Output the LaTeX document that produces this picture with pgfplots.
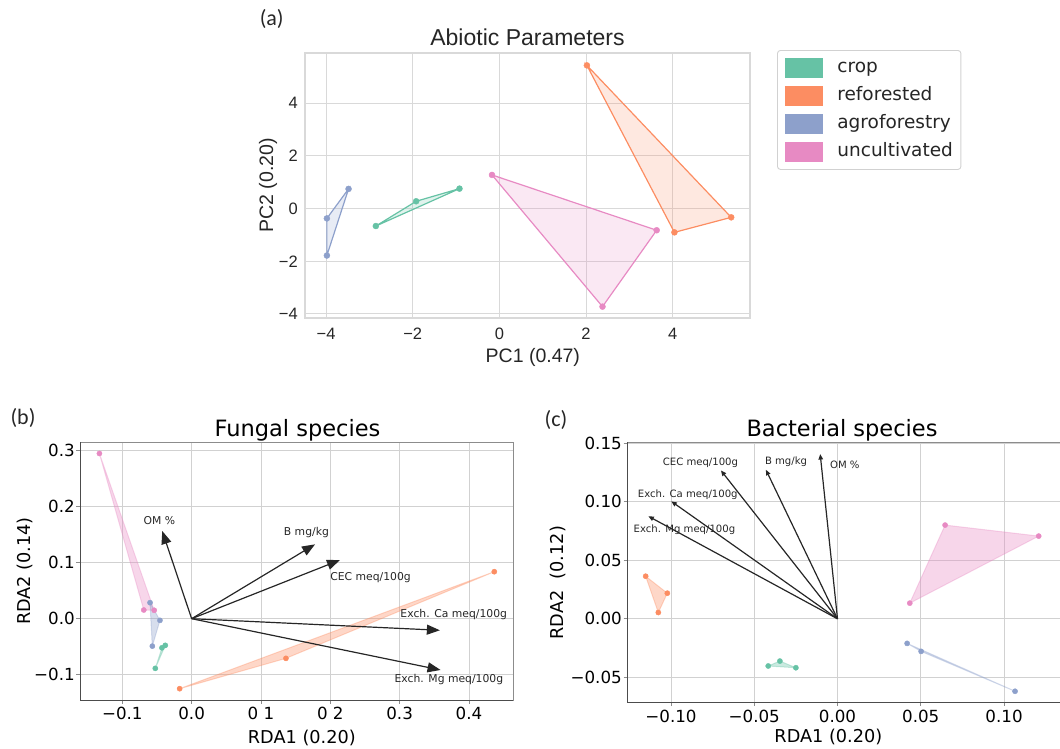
\documentclass[border=0pt]{standalone}
\usepackage{fontspec}
\setmainfont{DejaVu Sans}
\newfontfamily\arialfont{Liberation Sans}
\newfontfamily\tagfont{Carlito}
\usepackage{pgfplots}
\pgfplotsset{compat=1.18}
\usetikzlibrary{arrows.meta}

% Set2 palette
\definecolor{crop}{HTML}{66C2A5}
\definecolor{refo}{HTML}{FC8D62}
\definecolor{agro}{HTML}{8DA0CB}
\definecolor{uncu}{HTML}{E78AC3}
\definecolor{txtdark}{HTML}{262626}

\newcommand{\fs}[1]{\fontsize{#1}{#1}\selectfont}

\pgfplotsset{
  % convex hulls and sample points, PCA panel
  hullA/.style={draw=#1, line width=1.2pt, fill=#1, fill opacity=0.2, forget plot},
  ptsA/.style={only marks, mark=*, mark size=3pt, color=#1, forget plot},
  % convex hulls and sample points, RDA panels
  hullR/.style={draw=#1, draw opacity=0.35, line width=1pt, fill=#1, fill opacity=0.35, forget plot},
  ptsR/.style={only marks, mark=*, mark size=2.6pt, color=#1, forget plot},
  % environmental vectors
  vecB/.style={black!85, line width=1.2pt, -{Triangle[length=13pt,width=10pt]}, forget plot},
  vecC/.style={black!85, line width=1.2pt, -{Triangle[length=5.5pt,width=4.5pt]}, forget plot},
  rdaaxis/.style={
    scale only axis, anchor=south west, clip=false,
    grid=major, major grid style={black!18, line width=0.9pt},
    axis line style={black!45, line width=0.9pt},
    tick align=outside, major tick length=3.5pt,
    tick style={black!45, line width=0.9pt},
    xtick pos=lower, ytick pos=left,
    tick label style={font=\fs{16.7}, color=black},
    xticklabel style={inner sep=0pt, yshift=-3.8pt},
    yticklabel style={inner sep=0pt, xshift=-1.5pt},
  },
}

\begin{document}
\begin{tikzpicture}[x=1pt,y=1pt]
\path[use as bounding box] (0,0) rectangle (1060,748);

% ---------------- (a) PCA of abiotic parameters ----------------
\begin{axis}[
  at={(305pt,430pt)}, anchor=south west, scale only axis,
  width=445pt, height=265pt,
  xmin=-4.485, xmax=5.784, ymin=-4.152, ymax=5.91,
  xtick={-4,-2,0,2,4}, ytick={-4,-2,0,2,4},
  xticklabels={−4,−2,0,2,4}, yticklabels={−4,−2,0,2,4},
  grid=major, major grid style={black!15, line width=1pt},
  axis line style={black!15, line width=1.3pt},
  tick style={draw=none},
  tick label style={font=\arialfont\fs{16.5}, color=txtdark},
  xticklabel style={inner sep=0pt, yshift=-9.7pt},
  yticklabel style={inner sep=0pt, xshift=-7pt},
  title={Abiotic Parameters},
  every axis title/.style={at={(axis description cs:0.5,1.0275)}, anchor=base, font=\arialfont\fs{23}, color=txtdark},
  xlabel={PC1 (0.47)},
  every axis x label/.style={at={(axis description cs:0.512,-0.1687)}, anchor=base, font=\arialfont\fs{19.5}, color=txtdark},
  ylabel={PC2 (0.20)},
  every axis y label/.style={at={(axis description cs:-0.0719,0.5)}, rotate=90, anchor=base, font=\arialfont\fs{19.5}, color=txtdark},
  legend image code/.code={\fill[#1, rounded corners=0pt] (0pt,-9.5pt) rectangle (37pt,9.5pt);},
  legend cell align=left,
  legend style={at={(axis description cs:1.0607,1.0113)}, anchor=north west,
    draw=black!18, line width=0.9pt, rounded corners=3pt, fill=white,
    inner xsep=8pt, inner ysep=8pt, row sep=7.8pt,
    font=\fs{18.5}, text=txtdark,
    nodes={inner sep=0pt, text height=13.5pt, text depth=4.5pt},
    /tikz/every odd column/.append style={column sep=14pt}},
]
\addlegendimage{crop}\addlegendentry{crop}
\addlegendimage{refo}\addlegendentry{reforested}
\addlegendimage{agro}\addlegendentry{agroforestry}
\addlegendimage{uncu}\addlegendentry{uncultivated}

\addplot[hullA=crop] coordinates {(-2.85,-0.66) (-1.92,0.28) (-0.92,0.76)} -- cycle;
\addplot[ptsA=crop]  coordinates {(-2.85,-0.66) (-1.92,0.28) (-0.92,0.76)};
\addplot[hullA=refo] coordinates {(2.02,5.44) (5.35,-0.33) (4.04,-0.90)} -- cycle;
\addplot[ptsA=refo]  coordinates {(2.02,5.44) (5.35,-0.33) (4.04,-0.90)};
\addplot[hullA=agro] coordinates {(-3.98,-0.37) (-3.48,0.75) (-3.98,-1.78)} -- cycle;
\addplot[ptsA=agro]  coordinates {(-3.98,-0.37) (-3.48,0.75) (-3.98,-1.78)};
\addplot[hullA=uncu] coordinates {(-0.17,1.28) (3.63,-0.82) (2.38,-3.72)} -- cycle;
\addplot[ptsA=uncu]  coordinates {(-0.17,1.28) (3.63,-0.82) (2.38,-3.72)};
\end{axis}

% ---------------- (b) RDA, fungal species ----------------
\begin{axis}[rdaaxis,
  at={(80pt,48pt)}, width=433.3pt, height=258pt,
  xmin=-0.161, xmax=0.4639, ymin=-0.1452, ymax=0.3155,
  xtick={-0.1,0,0.1,0.2,0.3,0.4}, xticklabels={−0.1,0.0,0 1,0 2,0.3,0.4},
  ytick={-0.1,0,0.1,0.2,0.3}, yticklabels={−0.1,0.0,0.1,0.2,0.3},
  title={Fungal species},
  every axis title/.style={at={(axis description cs:0.502,1.0205)}, anchor=base, font=\fs{22.5}},
  xlabel={RDA1 (0.20)},
  every axis x label/.style={at={(axis description cs:0.512,-0.168)}, anchor=base, font=\fs{17.7}},
  ylabel={RDA2 (0.14)},
  every axis y label/.style={at={(axis description cs:-0.1145,0.5)}, rotate=90, anchor=base, font=\fs{17.7}},
]
\addplot[hullR=uncu] coordinates {(-0.133,0.295) (-0.069,0.0155) (-0.054,0.015)} -- cycle;
\addplot[ptsR=uncu]  coordinates {(-0.133,0.295) (-0.069,0.0155) (-0.054,0.015)};
\addplot[hullR=agro] coordinates {(-0.060,0.0286) (-0.0457,-0.003) (-0.0567,-0.049)} -- cycle;
\addplot[ptsR=agro]  coordinates {(-0.060,0.0286) (-0.0457,-0.003) (-0.0567,-0.049)};
\addplot[hullR=crop] coordinates {(-0.0524,-0.0887) (-0.0428,-0.052) (-0.038,-0.0476)} -- cycle;
\addplot[ptsR=crop]  coordinates {(-0.0524,-0.0887) (-0.0428,-0.052) (-0.038,-0.0476)};
\addplot[hullR=refo] coordinates {(-0.0173,-0.125) (0.136,-0.0708) (0.4365,0.0839)} -- cycle;
\addplot[ptsR=refo]  coordinates {(-0.0173,-0.125) (0.136,-0.0708) (0.4365,0.0839)};

\addplot[vecB] coordinates {(0,0) (-0.0424,0.1566)};
\addplot[vecB] coordinates {(0,0) (0.178,0.1328)};
\addplot[vecB] coordinates {(0,0) (0.214,0.1048)};
\addplot[vecB] coordinates {(0,0) (0.358,-0.0207)};
\addplot[vecB] coordinates {(0,0) (0.359,-0.0916)};
\node[font=\fs{10.8}, text=black!85] at (axis cs:-0.0466,0.176) {OM \%};
\node[font=\fs{10.8}, text=black!85] at (axis cs:0.1655,0.153) {B mg/kg};
\node[font=\fs{10.8}, text=black!85] at (axis cs:0.258,0.0732) {CEC meq/100g};
\node[font=\fs{10.8}, text=black!85] at (axis cs:0.378,0.0066) {Exch. Ca meq/100g};
\node[font=\fs{10.8}, text=black!85] at (axis cs:0.371,-0.108) {Exch. Mg meq/100g};
\draw[black!70, line width=0.9pt] (rel axis cs:0,1) -- (rel axis cs:0,0) -- (rel axis cs:1,0);
\end{axis}

% ---------------- (c) RDA, bacterial species ----------------
\begin{axis}[rdaaxis,
  at={(627pt,45.5pt)}, width=434pt, height=260.5pt,
  xmin=-0.1264, xmax=0.1342, ymin=-0.0715, ymax=0.1511,
  xtick={-0.1,-0.05,0,0.05,0.1}, xticklabels={−0.10,−0.05,0.00,0.05,0.10},
  ytick={-0.05,0,0.05,0.1,0.15}, yticklabels={−0.05,0.00,0.05,0.10,0.15},
  title={Bacterial species},
  every axis title/.style={at={(axis description cs:0.4954,1.0203)}, anchor=base, font=\fs{22.5}},
  xlabel={RDA1 (0.20)},
  every axis x label/.style={at={(axis description cs:0.464,-0.154)}, anchor=base, font=\fs{17.7}},
  ylabel={RDA2\ \ (0.12)},
  every axis y label/.style={at={(axis description cs:-0.147,0.46)}, rotate=90, anchor=base, font=\fs{17.7}},
]
\addplot[hullR=refo] coordinates {(-0.1152,0.0364) (-0.1022,0.0219) (-0.1076,0.0054)} -- cycle;
\addplot[ptsR=refo]  coordinates {(-0.1152,0.0364) (-0.1022,0.0219) (-0.1076,0.0054)};
\addplot[hullR=crop] coordinates {(-0.0416,-0.0403) (-0.0346,-0.0361) (-0.025,-0.0418)} -- cycle;
\addplot[ptsR=crop]  coordinates {(-0.0416,-0.0403) (-0.0346,-0.0361) (-0.025,-0.0418)};
\addplot[hullR=uncu] coordinates {(0.0646,0.0801) (0.1208,0.0707) (0.0434,0.0134)} -- cycle;
\addplot[ptsR=uncu]  coordinates {(0.0646,0.0801) (0.1208,0.0707) (0.0434,0.0134)};
\addplot[hullR=agro] coordinates {(0.0418,-0.021) (0.0502,-0.0278) (0.1066,-0.0619)} -- cycle;
\addplot[ptsR=agro]  coordinates {(0.0418,-0.021) (0.0502,-0.0278) (0.1066,-0.0619)};

\addplot[vecC] coordinates {(0,0) (-0.0104,0.1408)};
\addplot[vecC] coordinates {(0,0) (-0.043,0.1274)};
\addplot[vecC] coordinates {(0,0) (-0.070,0.1268)};
\addplot[vecC] coordinates {(0,0) (-0.0998,0.1004)};
\addplot[vecC] coordinates {(0,0) (-0.1136,0.0877)};
\node[font=\fs{10.1}, text=black!85] at (axis cs:-0.0823,0.1329) {CEC meq/100g};
\node[font=\fs{10.1}, text=black!85] at (axis cs:-0.0309,0.1342) {B mg/kg};
\node[font=\fs{10.1}, text=black!85] at (axis cs:0.0044,0.1318) {OM \%};
\node[font=\fs{10.1}, text=black!85] at (axis cs:-0.0899,0.106) {Exch. Ca meq/100g};
\node[font=\fs{10.1}, text=black!85] at (axis cs:-0.0919,0.0758) {Exch. Mg meq/100g};
\draw[black!70, line width=0.9pt] (rel axis cs:0,1) -- (rel axis cs:0,0) -- (rel axis cs:1,0);
\end{axis}

% panel tags
\node[font=\tagfont\fs{22}, text=txtdark] at (271.7,748-19) {(a)};
\node[font=\tagfont\fs{22}, text=txtdark] at (23,748-418) {(b)};
\node[font=\tagfont\fs{22}, text=txtdark] at (556,748-419.5) {(c)};
\end{tikzpicture}
\end{document}
